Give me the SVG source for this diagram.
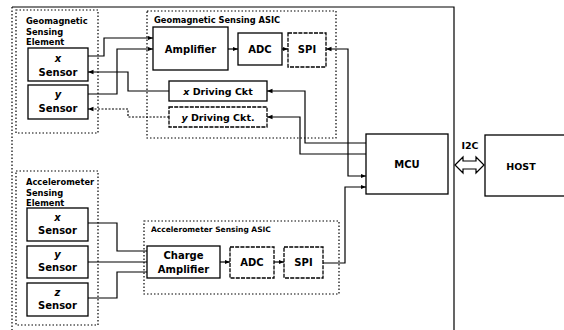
<svg xmlns="http://www.w3.org/2000/svg" width="564" height="330" viewBox="0 0 564 330">
<defs>
<marker id="ah" viewBox="0 0 10 10" refX="10" refY="5" markerWidth="5.5" markerHeight="5.5" orient="auto-start-reverse" markerUnits="userSpaceOnUse"><path d="M0,1 L10,5 L0,9 Z" fill="#000"/></marker>
</defs>
<style>
text{font-family:"DejaVu Sans","Liberation Sans",sans-serif;font-weight:bold;fill:#000}
.box{fill:#fff;stroke:#000;stroke-width:1.3}
.dash{stroke-dasharray:4 1.2}
.grp{fill:none;stroke:#000;stroke-width:1.2;stroke-dasharray:1.5 2}
.ln{fill:none;stroke:#000;stroke-width:1.2}
.dot{stroke-dasharray:2 1.5}
.c{text-anchor:middle}
.t10{font-size:10px}
.t9{font-size:9.5px}
.t8{font-size:8.3px}
.t7{font-size:7.5px}
</style>
<rect width="564" height="330" fill="#fff"/>
<g id="frame">
<path class="ln" d="M12,7 H454 V330"/>
<path class="grp" d="M12,7 V330"/>
</g>
<g id="geo-element">
<rect class="grp" x="16" y="10" width="82" height="123"/>
<text class="t8" x="26" y="24">Geomagnetic</text>
<text class="t8" x="26" y="35">Sensing</text>
<text class="t8" x="26" y="45">Element</text>
</g>
<g id="geo-x-sensor">
<rect class="box" x="28" y="48" width="60" height="33"/>
<text class="t10 c" x="58" y="62" font-style="italic">x</text>
<text class="t10 c" x="58" y="76">Sensor</text>
</g>
<g id="geo-y-sensor">
<rect class="box" x="28" y="85" width="60" height="34"/>
<text class="t10 c" x="58" y="98" font-style="italic">y</text>
<text class="t10 c" x="58" y="112">Sensor</text>
</g>
<g id="geo-asic">
<rect class="grp" x="147" y="11" width="189" height="127"/>
<text class="t8" x="154" y="23">Geomagnetic Sensing ASIC</text>
</g>
<g id="geo-amplifier">
<rect class="box" x="153" y="27" width="75" height="43"/>
<text class="t10 c" x="190.5" y="52.5">Amplifier</text>
</g>
<g id="geo-adc">
<rect class="box" x="238" y="33" width="44" height="32"/>
<text class="t10 c" x="260" y="52.5">ADC</text>
</g>
<g id="geo-spi">
<rect class="box dash" x="288" y="33" width="38" height="34"/>
<text class="t10 c" x="307" y="53">SPI</text>
</g>
<g id="x-driving">
<rect class="box" x="169" y="81" width="98" height="20"/>
<text class="t9 c" x="218" y="95"><tspan font-style="italic">x</tspan> Driving Ckt</text>
</g>
<g id="y-driving">
<rect class="box dash" x="169" y="107" width="98" height="20"/>
<text class="t9 c" x="218" y="121"><tspan font-style="italic">y</tspan> Driving Ckt.</text>
</g>
<g id="acc-element">
<rect class="grp" x="16" y="171" width="82" height="154"/>
<text class="t8" x="26" y="185">Accelerometer</text>
<text class="t8" x="26" y="196">Sensing</text>
<text class="t8" x="26" y="206">Element</text>
</g>
<g id="acc-x-sensor">
<rect class="box" x="27" y="208" width="61" height="33"/>
<text class="t10 c" x="57.5" y="221" font-style="italic">x</text>
<text class="t10 c" x="57.5" y="234">Sensor</text>
</g>
<g id="acc-y-sensor">
<rect class="box" x="27" y="246" width="61" height="32"/>
<text class="t10 c" x="57.5" y="258" font-style="italic">y</text>
<text class="t10 c" x="57.5" y="271">Sensor</text>
</g>
<g id="acc-z-sensor">
<rect class="box" x="27" y="283" width="61" height="33"/>
<text class="t10 c" x="57.5" y="296" font-style="italic">z</text>
<text class="t10 c" x="57.5" y="309">Sensor</text>
</g>
<g id="acc-asic">
<rect class="grp" x="144" y="221" width="195" height="73"/>
<text class="t7" x="151" y="232">Accelerometer Sensing ASIC</text>
</g>
<g id="charge-amplifier">
<rect class="box" x="147" y="246" width="73" height="32"/>
<text class="t10 c" x="183.5" y="259">Charge</text>
<text class="t10 c" x="183.5" y="273">Amplifier</text>
</g>
<g id="acc-adc">
<rect class="box dash" x="230" y="247" width="44" height="31"/>
<text class="t10 c" x="252" y="266">ADC</text>
</g>
<g id="acc-spi">
<rect class="box dash" x="284" y="247" width="39" height="31"/>
<text class="t10 c" x="303.5" y="266">SPI</text>
</g>
<g id="mcu">
<rect class="box" x="366" y="134" width="82" height="60"/>
<text class="t10 c" x="407" y="168">MCU</text>
</g>
<g id="host">
<rect class="box" x="485" y="135" width="90" height="61"/>
<text class="t9 c" x="521" y="170">HOST</text>
</g>
<g id="connectors">
<path class="ln" d="M88,56 H104 V38 H153" marker-end="url(#ah)"/>
<path class="ln" d="M88,94 H117 V49 H153" marker-end="url(#ah)"/>
<path class="ln" d="M169,91 H128 V72 H88" marker-end="url(#ah)"/>
<path class="ln dot" d="M169,117 H128 V109 H88" marker-end="url(#ah)"/>
<path class="ln" d="M228,49 H238" marker-end="url(#ah)"/>
<path class="ln" d="M282,49 H288" marker-end="url(#ah)"/>
<path class="ln" d="M326,49 H348 V176 H366" marker-start="url(#ah)" marker-end="url(#ah)"/>
<path class="ln" d="M366,143 H305 V91 H267" marker-end="url(#ah)"/>
<path class="ln" d="M366,154 H300 V117 H267" marker-end="url(#ah)"/>
<path class="ln" d="M88,223 H117 V251 H147"/>
<path class="ln" d="M88,262 H147"/>
<path class="ln" d="M88,298 H117 V272 H147"/>
<path class="ln" d="M220,262 H230" marker-end="url(#ah)"/>
<path class="ln" d="M274,262 H284" marker-end="url(#ah)"/>
<path class="ln" d="M323,263 H345 V187 H366" marker-end="url(#ah)"/>
<path class="ln" d="M455,165 L463,157 V161 H476 V157 L484,165 L476,173 V169 H463 V173 Z" fill="#fff"/>
<text class="t9 c" x="470" y="149">I2C</text>
</g>
</svg>
